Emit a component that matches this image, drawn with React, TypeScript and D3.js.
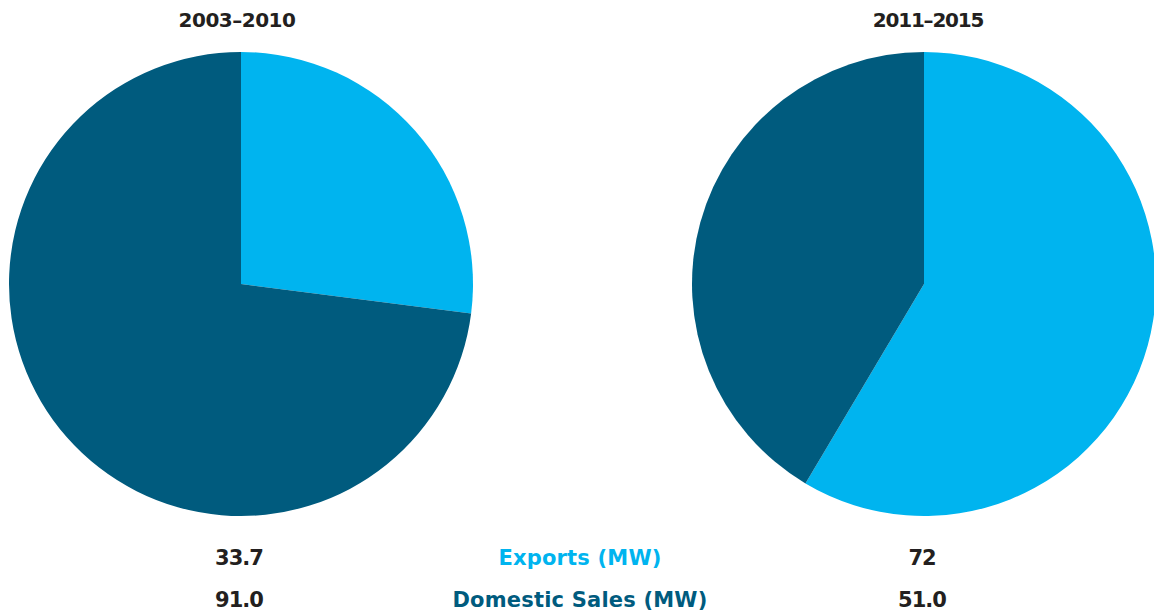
import React from "react";
import * as d3 from "d3";

const periods = ["2003–2010", "2011–2015"];
const categories = ["Exports (MW)", "Domestic Sales (MW)"];
const exportsMW = [33.7, 72];
const domesticMW = [91.0, 51.0];
const exportsLabels = ["33.7", "72"];
const domesticLabels = ["91.0", "51.0"];

const W = 1154;
const H = 616;
const colors = ["#00B4EF", "#005B7E"];
const textDark = "#231F20";
const font = "'DejaVu Sans', sans-serif";

export default function App() {
  const centers = d3.scalePoint<string>().domain(periods).range([241, 924]);
  const radius = 232;
  const cy = 284;
  const pie = d3.pie<number>().sort(null).value((d) => d);
  const arc = d3.arc<d3.PieArcDatum<number>>().innerRadius(0).outerRadius(radius);
  const legendX = 580;
  const titleOffset = [-4, 4];
  const titleSpacing = [-0.5, -1.2];

  return (
    <svg width={W} height={H} style={{ position: "absolute", left: 0, top: 0 }}>
      {periods.map((p, i) => {
        const cx = centers(p)!;
        const arcs = pie([exportsMW[i], domesticMW[i]]);
        return (
          <g key={p}>
            <text x={cx + titleOffset[i]} y={27} textAnchor="middle" fontFamily={font} fontWeight={700} fontSize={20} fill={textDark} letterSpacing={titleSpacing[i]}>
              {p}
            </text>
            <g transform={`translate(${cx},${cy})`}>
              {arcs.map((a, j) => (
                <path key={j} d={arc(a)!} fill={colors[j]} />
              ))}
            </g>
            <text x={cx - 2} y={565} textAnchor="middle" fontFamily={font} fontWeight={700} fontSize={21} fill={textDark} letterSpacing={-1}>
              {exportsLabels[i]}
            </text>
            <text x={cx - 2} y={607} textAnchor="middle" fontFamily={font} fontWeight={700} fontSize={21} fill={textDark} letterSpacing={-1}>
              {domesticLabels[i]}
            </text>
          </g>
        );
      })}
      {categories.map((c, j) => (
        <text key={c} x={legendX} y={j === 0 ? 565 : 607} textAnchor="middle" fontFamily={font} fontWeight={700} fontSize={21} fill={colors[j]} letterSpacing={0.2}>
          {c}
        </text>
      ))}
    </svg>
  );
}
